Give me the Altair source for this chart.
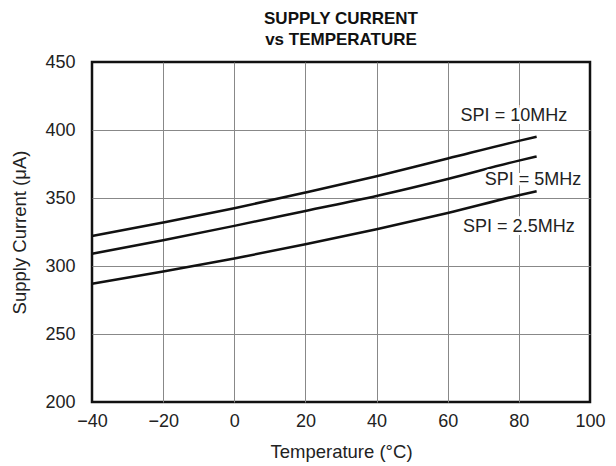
import altair as alt
import pandas as pd

temps = [-40, -20, 0, 20, 40, 60, 80, 85]
spi_10 = [322, 332, 342.5, 354, 366, 379, 392, 395]
spi_5 = [309, 319, 329.5, 340.5, 351.5, 364, 377.5, 380.5]
spi_25 = [287, 296, 305.5, 316, 327, 339, 352, 355]
series_names = ["SPI = 10MHz", "SPI = 5MHz", "SPI = 2.5MHz"]

label_text = ["SPI = 10MHz", "SPI = 5MHz", "SPI = 2.5MHz"]
label_x = [78.6, 84.0, 80.0]
label_y = [410.3, 363.2, 328.7]

rows = []
for name, vals in zip(series_names, [spi_10, spi_5, spi_25]):
    for t, v in zip(temps, vals):
        rows.append({"series": name, "temp": t, "current": v})
df = pd.DataFrame(rows)
labels = pd.DataFrame({"text": label_text, "x": label_x, "y": label_y})

FONT = "Liberation Sans"
FS = 18

xscale = alt.Scale(domain=[-40, 100], nice=False, zero=False)
yscale = alt.Scale(domain=[200, 450], nice=False, zero=False)

x_grid_color = {"condition": {"test": "datum.value <= -40 || datum.value >= 100", "value": "rgba(0,0,0,0)"},
                "value": "#888888"}
y_grid_color = {"condition": {"test": "datum.value <= 200 || datum.value >= 450", "value": "rgba(0,0,0,0)"},
                "value": "#888888"}

lines = alt.Chart(df).mark_line(color="#111", strokeWidth=2.5, interpolate="monotone").encode(
    x=alt.X("temp:Q", scale=xscale,
            axis=alt.Axis(title="Temperature (°C)", values=[-40, -20, 0, 20, 40, 60, 80, 100],
                          grid=True, gridColor=x_grid_color, gridWidth=1, ticks=False, domain=False,
                          labelFlush=False,
                          labelFontSize=FS, labelPadding=10, titleFontSize=18.5, titleFontWeight="normal",
                          titlePadding=12, labelFont=FONT, titleFont=FONT, labelColor="#222", titleColor="#222")),
    y=alt.Y("current:Q", scale=yscale,
            axis=alt.Axis(title="Supply Current (μA)", values=[200, 250, 300, 350, 400, 450],
                          grid=True, gridColor=y_grid_color, gridWidth=1, ticks=False, domain=False,
                          labelFlush=False,
                          labelFontSize=FS, labelPadding=17, titleFontSize=18.5, titleFontWeight="normal",
                          titlePadding=15, labelFont=FONT, titleFont=FONT, labelColor="#222", titleColor="#222")),
    detail="series:N",
)

halo = alt.Chart(labels).mark_text(fontSize=FS, font=FONT, color="white", stroke="white",
                                   strokeWidth=6).encode(
    x=alt.X("x:Q", scale=xscale), y=alt.Y("y:Q", scale=yscale), text="text:N")
txt = alt.Chart(labels).mark_text(fontSize=FS, font=FONT, color="#222").encode(
    x=alt.X("x:Q", scale=xscale), y=alt.Y("y:Q", scale=yscale), text="text:N")

chart = alt.layer(lines, halo, txt).properties(
    width=498, height=340,
    title=alt.TitleParams(text=["SUPPLY CURRENT", "vs TEMPERATURE"], fontSize=17, fontWeight="bold",
                          font=FONT, anchor="middle", offset=4, lineHeight=21, color="#111"),
    autosize=alt.AutoSizeParams(type="none"),
    padding={"left": 84, "top": 54, "right": 18, "bottom": 62},
).configure(background="white").configure_view(stroke="#111", strokeWidth=2.5)

chart.save("out.html", embed_options={"renderer": "svg", "actions": False})
